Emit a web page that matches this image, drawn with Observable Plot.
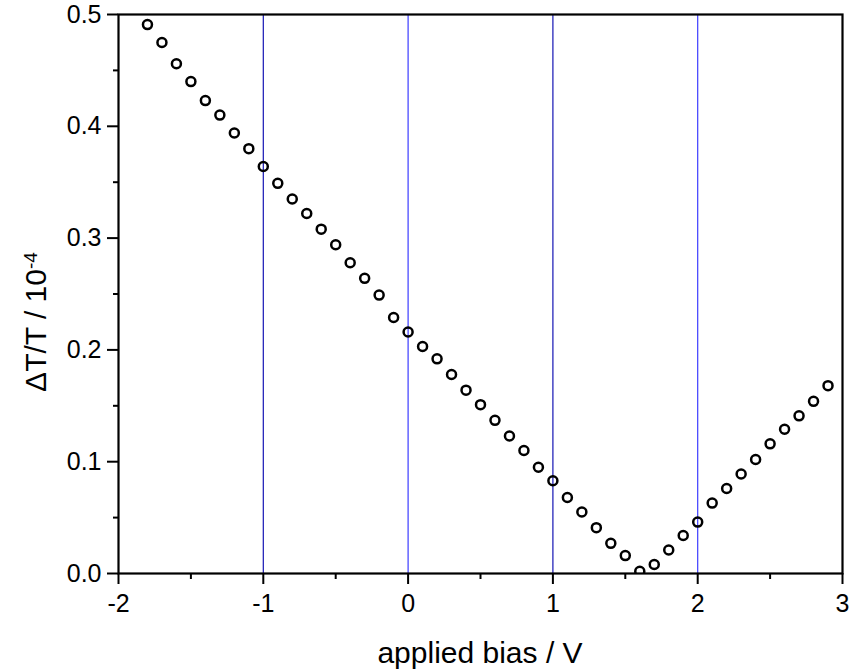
<!DOCTYPE html>
<html>
<head>
<meta charset="utf-8">
<script src="https://cdn.jsdelivr.net/npm/d3@7"></script>
<script src="https://cdn.jsdelivr.net/npm/@observablehq/plot@0.6"></script>
<style>
  html, body { margin: 0; padding: 0; background: #fff; overflow: hidden; }
  #chart svg { display: block; }
</style>
</head>
<body>
<div id="chart"></div>
<script>
// Applied bias (V)
const bias = [
  -1.8, -1.7, -1.6, -1.5, -1.4, -1.3, -1.2, -1.1, -1.0, -0.9,
  -0.8, -0.7, -0.6, -0.5, -0.4, -0.3, -0.2, -0.1, 0.0, 0.1,
  0.2, 0.3, 0.4, 0.5, 0.6, 0.7, 0.8, 0.9, 1.0, 1.1,
  1.2, 1.3, 1.4, 1.5, 1.6, 1.7, 1.8, 1.9, 2.0, 2.1,
  2.2, 2.3, 2.4, 2.5, 2.6, 2.7, 2.8, 2.9
];
// Differential transmission ΔT/T in units of 1e-4
const dTT = [
  0.491, 0.475, 0.456, 0.440, 0.423, 0.410, 0.394, 0.380, 0.364, 0.349,
  0.335, 0.322, 0.308, 0.294, 0.278, 0.264, 0.249, 0.229, 0.216, 0.203,
  0.192, 0.178, 0.164, 0.151, 0.137, 0.123, 0.110, 0.095, 0.083, 0.068,
  0.055, 0.041, 0.027, 0.016, 0.002, 0.008, 0.021, 0.034, 0.046, 0.063,
  0.076, 0.089, 0.102, 0.116, 0.129, 0.141, 0.154, 0.168
];
// Reference bias lines
const guideBias = [-1, 0, 1, 2];
// Axis ticks
const xMajor = [-2, -1, 0, 1, 2, 3];
const xMinor = [-1.5, -0.5, 0.5, 1.5, 2.5];
const yMajor = [0, 0.1, 0.2, 0.3, 0.4, 0.5];
const yMinor = [0.05, 0.15, 0.25, 0.35, 0.45];
// Axis titles
const xTitle = "applied bias / V";
const yTitleBase = "ΔT/T / 10";
const yTitleExp = "-4";

const points = bias.map((b, i) => ({bias: b, value: dTT[i]}));
const font = "'Liberation Sans', Arial, Helvetica, sans-serif";

const chart = Plot.plot({
  width: 851,
  height: 672,
  marginLeft: 118,
  marginRight: 9,
  marginTop: 14,
  marginBottom: 99,
  style: {fontFamily: font, background: "#fff", color: "#000"},
  x: {domain: [-2, 3]},
  y: {domain: [0, 0.5]},
  marks: [
    Plot.ruleX(guideBias, {
      x: d => d,
      stroke: d => (d % 2 === 0 ? "#3c3cff" : "#1414b4"),
      strokeWidth: 1.2
    }),
    Plot.dot(points, {
      x: "bias", y: "value", r: 4.5,
      stroke: "#000", strokeWidth: 2.5, fill: "none", clip: true
    }),
    Plot.axisX({
      ticks: xMinor, tickSize: 6, strokeWidth: 2, text: null, label: null
    }),
    Plot.axisX({
      ticks: xMajor, tickSize: 11, strokeWidth: 2, tickPadding: 10,
      tickFormat: d => String(d), fontSize: 25, label: null
    }),
    Plot.axisY({
      ticks: yMinor, tickSize: 5, strokeWidth: 2, text: null, label: null
    }),
    Plot.axisY({
      ticks: yMajor, tickSize: 11, strokeWidth: 2, tickPadding: 6,
      tickFormat: d3.format(".1f"), fontSize: 25, label: null
    }),
    Plot.frame({stroke: "#000", strokeWidth: 2.2})
  ]
});

document.getElementById("chart").appendChild(chart);

const svg = d3.select(chart);

// x-axis title
svg.append("text")
  .attr("x", (118 + 842) / 2)
  .attr("y", 663)
  .attr("text-anchor", "middle")
  .attr("font-family", font)
  .attr("font-size", 30)
  .attr("fill", "#000")
  .text(xTitle);

// y-axis title with a superscript exponent
const yTitle = svg.append("text")
  .attr("transform", "translate(46,322) rotate(-90)")
  .attr("text-anchor", "middle")
  .attr("font-family", font)
  .attr("font-size", 30)
  .attr("fill", "#000");
yTitle.append("tspan").text(yTitleBase);
yTitle.append("tspan").attr("dy", "-0.45em").attr("font-size", 19).text(yTitleExp);
</script>
</body>
</html>
